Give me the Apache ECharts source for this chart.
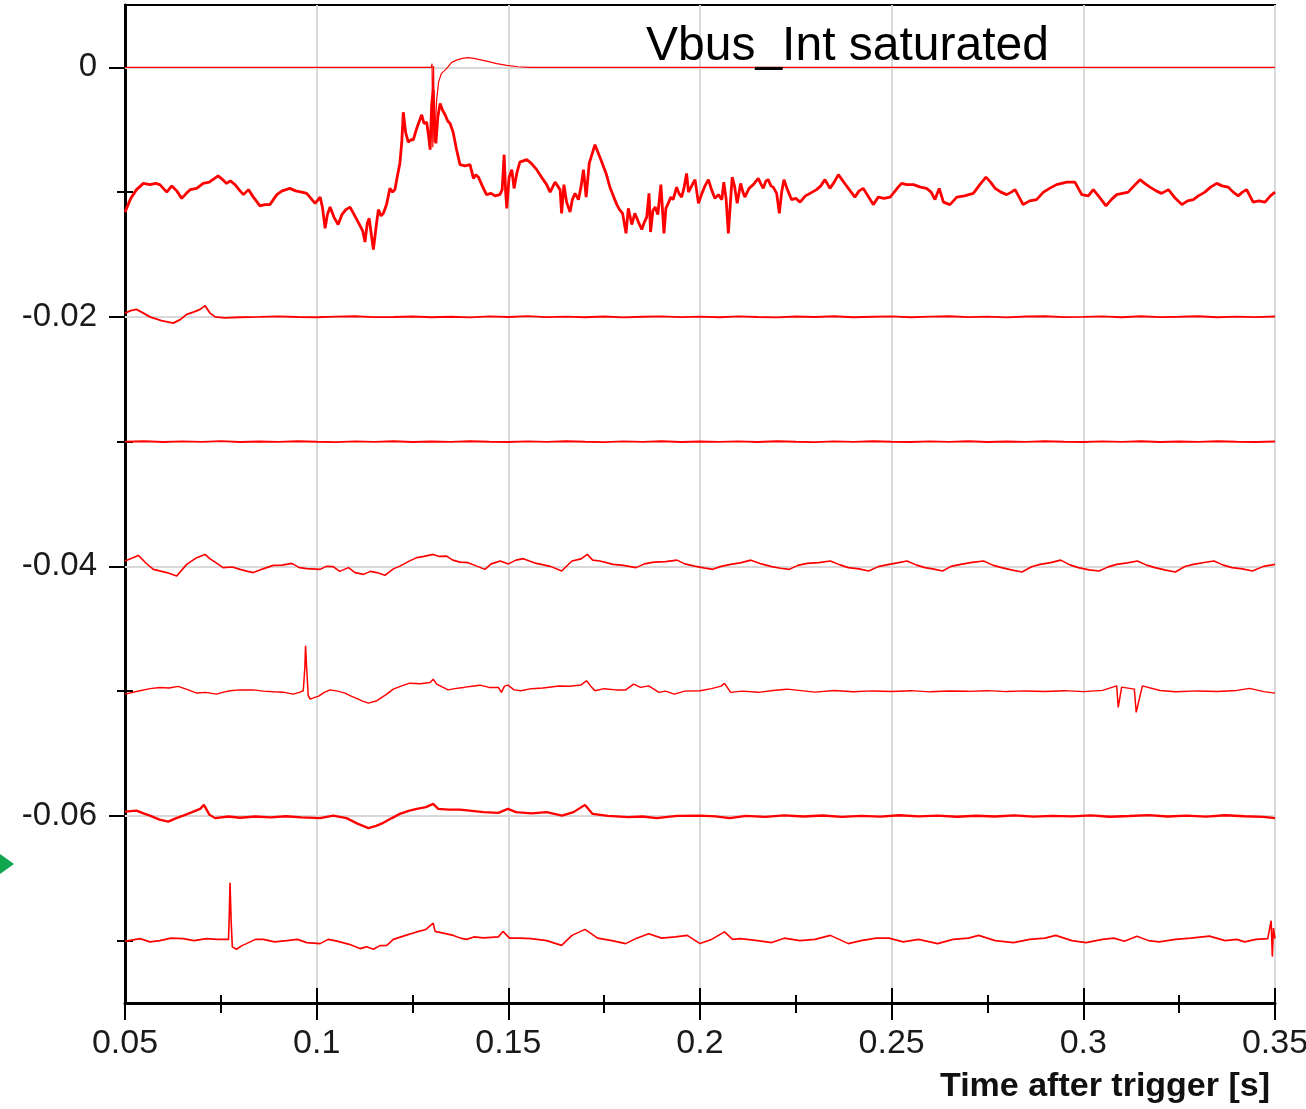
<!DOCTYPE html>
<html>
<head>
<meta charset="utf-8">
<script src="https://cdn.jsdelivr.net/npm/echarts@6.0.0/dist/echarts.min.js"></script>
<style>
html,body{margin:0;padding:0;background:#fff;overflow:hidden;}
#chart{width:1306px;height:1109px;}
</style>
</head>
<body>
<div id="chart"></div>
<script>
// ---------------- DATA ----------------
const chartTitle = 'Vbus_Int saturated';
const xAxisName = 'Time after trigger [s]';
const xMin = 0.05, xMax = 0.35, xStep = 0.05;
const yMin = -0.075, yMax = 0.005;
const yMajorTicks = [0, -0.02, -0.04, -0.06];
const yMinorTicks = [-0.01, -0.03, -0.05, -0.07];
const yGridLines = [0, -0.02, -0.04, -0.06];

// trace at 0 (thin, saturated integrator)
const traceA = [[0.05,0],[0.1299,0],[0.1301,0.0003],[0.1303,-0.0064],[0.1305,0.0001],[0.1307,-0.006],[0.131,-0.0045],[0.1313,-0.0026],[0.1318,-0.0012],[0.1325,-0.0005],[0.1339,-0.0001],[0.1352,0.0004],[0.1365,0.00058],[0.138,0.00072],[0.1395,0.00078],[0.141,0.00072],[0.1443,0.0005],[0.147,0.0003],[0.1496,0.00016],[0.1525,0.00005],[0.1555,0],[0.35,0]];

// thick trace around -0.01
const traceB = [[0.05,-0.0116],[0.0515,-0.0105],[0.053,-0.0098],[0.0548,-0.0093],[0.0565,-0.0094],[0.058,-0.0093],[0.0591,-0.0094],[0.06,-0.0097],[0.0609,-0.01],[0.0622,-0.0095],[0.0635,-0.0099],[0.0648,-0.0105],[0.066,-0.0101],[0.067,-0.0098],[0.0687,-0.0097],[0.0704,-0.0093],[0.072,-0.0092],[0.0743,-0.0087],[0.0755,-0.009],[0.0765,-0.0093],[0.0775,-0.0091],[0.0787,-0.0094],[0.08,-0.0099],[0.0809,-0.0102],[0.0822,-0.0098],[0.0835,-0.0104],[0.0852,-0.0111],[0.0865,-0.011],[0.0878,-0.011],[0.0896,-0.0102],[0.091,-0.0099],[0.093,-0.0097],[0.0945,-0.0099],[0.0961,-0.01],[0.0974,-0.0101],[0.0985,-0.0105],[0.0996,-0.0109],[0.1009,-0.0104],[0.1015,-0.0112],[0.1022,-0.0129],[0.1028,-0.0118],[0.1035,-0.0112],[0.1045,-0.012],[0.1056,-0.0126],[0.1066,-0.0118],[0.1076,-0.0114],[0.1087,-0.0112],[0.1096,-0.0117],[0.111,-0.0125],[0.112,-0.0131],[0.1126,-0.014],[0.1132,-0.0125],[0.1137,-0.0121],[0.1143,-0.0135],[0.1148,-0.0146],[0.1155,-0.0128],[0.1161,-0.0114],[0.1168,-0.0119],[0.1174,-0.0117],[0.118,-0.0112],[0.1183,-0.0109],[0.1191,-0.0097],[0.1198,-0.01],[0.1204,-0.0098],[0.121,-0.0088],[0.1217,-0.0077],[0.1222,-0.006],[0.1226,-0.0036],[0.1232,-0.0052],[0.1239,-0.006],[0.1246,-0.0058],[0.1252,-0.0058],[0.1262,-0.0048],[0.1274,-0.0038],[0.128,-0.0045],[0.1287,-0.0044],[0.1292,-0.0055],[0.1296,-0.0066],[0.13,-0.003],[0.1304,-0.0018],[0.1308,-0.005],[0.1311,-0.0061],[0.1316,-0.004],[0.1322,-0.0029],[0.1328,-0.0034],[0.1335,-0.0038],[0.1342,-0.0043],[0.1348,-0.0045],[0.1356,-0.0052],[0.1365,-0.0066],[0.1374,-0.0078],[0.1387,-0.0079],[0.14,-0.0078],[0.1409,-0.0089],[0.1415,-0.0086],[0.1422,-0.0088],[0.1432,-0.0095],[0.1443,-0.0102],[0.1455,-0.0101],[0.1465,-0.0103],[0.1478,-0.0102],[0.1484,-0.0098],[0.1489,-0.007],[0.1493,-0.01],[0.1496,-0.0113],[0.1502,-0.0088],[0.1509,-0.0082],[0.1515,-0.0097],[0.1522,-0.0085],[0.153,-0.0076],[0.1548,-0.0074],[0.156,-0.0077],[0.1574,-0.0082],[0.1591,-0.009],[0.16,-0.0094],[0.1609,-0.01],[0.1622,-0.0092],[0.1635,-0.0098],[0.1639,-0.0117],[0.1645,-0.0094],[0.1652,-0.0108],[0.1661,-0.0116],[0.1667,-0.0106],[0.1674,-0.0101],[0.1683,-0.0106],[0.169,-0.0095],[0.1696,-0.0082],[0.1703,-0.0104],[0.1711,-0.0077],[0.1718,-0.007],[0.1726,-0.0062],[0.1735,-0.0069],[0.1744,-0.0076],[0.1755,-0.0085],[0.1765,-0.0096],[0.1775,-0.0104],[0.1783,-0.011],[0.179,-0.0114],[0.1798,-0.0117],[0.1807,-0.0133],[0.1813,-0.0113],[0.1818,-0.012],[0.1822,-0.0126],[0.183,-0.0117],[0.1838,-0.0123],[0.1848,-0.013],[0.1855,-0.0124],[0.1861,-0.012],[0.1867,-0.0101],[0.1871,-0.0132],[0.1877,-0.0115],[0.1883,-0.0112],[0.189,-0.0118],[0.1898,-0.0094],[0.1906,-0.0133],[0.1911,-0.0113],[0.1917,-0.0109],[0.1924,-0.0104],[0.193,-0.0106],[0.1939,-0.0096],[0.1945,-0.0101],[0.1952,-0.0104],[0.1958,-0.0097],[0.1965,-0.0085],[0.197,-0.01],[0.1974,-0.01],[0.198,-0.0094],[0.1987,-0.009],[0.1996,-0.0109],[0.2005,-0.0101],[0.2013,-0.0095],[0.2022,-0.009],[0.203,-0.0098],[0.2039,-0.0105],[0.2048,-0.0102],[0.2057,-0.0106],[0.2062,-0.0092],[0.2068,-0.0105],[0.2074,-0.0133],[0.2079,-0.011],[0.2084,-0.0088],[0.209,-0.0095],[0.2097,-0.0109],[0.2106,-0.0093],[0.2112,-0.01],[0.2117,-0.0104],[0.2128,-0.0097],[0.2139,-0.0094],[0.2152,-0.0089],[0.2158,-0.0093],[0.2165,-0.0097],[0.2172,-0.0091],[0.2178,-0.009],[0.2185,-0.0095],[0.2191,-0.0096],[0.22,-0.0101],[0.2207,-0.0117],[0.2213,-0.01],[0.2219,-0.009],[0.2228,-0.0098],[0.2239,-0.0106],[0.225,-0.0105],[0.2261,-0.0108],[0.2275,-0.0103],[0.2287,-0.0101],[0.2304,-0.0098],[0.2315,-0.0095],[0.2326,-0.009],[0.2339,-0.0097],[0.235,-0.0092],[0.2361,-0.0086],[0.2375,-0.0092],[0.2387,-0.0097],[0.2404,-0.0104],[0.2415,-0.0099],[0.2426,-0.0097],[0.244,-0.0104],[0.2452,-0.011],[0.2465,-0.0104],[0.248,-0.0105],[0.2496,-0.0104],[0.2504,-0.0101],[0.2517,-0.0096],[0.2526,-0.0093],[0.254,-0.0094],[0.2557,-0.0094],[0.2575,-0.0096],[0.2591,-0.0097],[0.2603,-0.01],[0.2613,-0.0106],[0.2624,-0.0097],[0.2635,-0.0108],[0.2652,-0.011],[0.267,-0.0104],[0.269,-0.0103],[0.2713,-0.0101],[0.273,-0.0094],[0.2746,-0.0088],[0.2758,-0.0092],[0.277,-0.0097],[0.2785,-0.01],[0.28,-0.0102],[0.2812,-0.01],[0.2822,-0.0098],[0.2843,-0.011],[0.286,-0.0107],[0.2878,-0.0106],[0.2896,-0.01],[0.2912,-0.0097],[0.293,-0.0094],[0.2957,-0.0092],[0.2978,-0.0092],[0.2996,-0.0102],[0.3013,-0.0103],[0.3026,-0.0098],[0.3042,-0.0104],[0.3059,-0.0111],[0.3073,-0.0106],[0.3087,-0.0102],[0.3102,-0.0101],[0.3117,-0.01],[0.3132,-0.0095],[0.3148,-0.009],[0.316,-0.0093],[0.3174,-0.0096],[0.319,-0.0099],[0.3204,-0.0101],[0.3222,-0.0098],[0.324,-0.0105],[0.3257,-0.011],[0.3272,-0.0107],[0.3287,-0.0106],[0.33,-0.0103],[0.3317,-0.01],[0.3332,-0.0096],[0.3348,-0.0093],[0.3362,-0.0095],[0.3378,-0.0096],[0.3391,-0.01],[0.3404,-0.0103],[0.3415,-0.01],[0.3426,-0.0098],[0.3443,-0.0108],[0.3458,-0.0107],[0.3474,-0.0108],[0.3488,-0.0103],[0.35,-0.01]];

// trace around -0.02
const traceC = [[0.05,-0.0197],[0.0515,-0.0195],[0.053,-0.0194],[0.0548,-0.0197],[0.0565,-0.02],[0.0595,-0.0203],[0.0626,-0.0205],[0.0645,-0.0202],[0.0661,-0.0198],[0.068,-0.0196],[0.0696,-0.0194],[0.0709,-0.0191],[0.0722,-0.0197],[0.0735,-0.02],[0.076,-0.02008],[0.08,-0.02003],[0.085,-0.02],[0.09,-0.01996],[0.095,-0.02001],[0.1,-0.02003],[0.105,-0.01998],[0.11,-0.01995],[0.115,-0.02002],[0.12,-0.02001],[0.125,-0.01997],[0.13,-0.02003],[0.135,-0.01999],[0.14,-0.02004],[0.145,-0.01996],[0.15,-0.02001],[0.155,-0.01994],[0.16,-0.02002],[0.165,-0.01998],[0.17,-0.02003],[0.175,-0.01997],[0.18,-0.02004],[0.185,-0.01999],[0.19,-0.01996],[0.195,-0.02002],[0.2,-0.01998],[0.205,-0.02003],[0.21,-0.01996],[0.215,-0.02001],[0.22,-0.02004],[0.225,-0.01997],[0.23,-0.02001],[0.235,-0.01995],[0.24,-0.02003],[0.245,-0.01999],[0.25,-0.01996],[0.255,-0.02003],[0.26,-0.01998],[0.265,-0.01995],[0.27,-0.02002],[0.275,-0.01998],[0.28,-0.02004],[0.285,-0.01997],[0.29,-0.01995],[0.295,-0.02002],[0.3,-0.02],[0.305,-0.01996],[0.31,-0.02003],[0.315,-0.01995],[0.32,-0.02002],[0.325,-0.01999],[0.33,-0.01995],[0.335,-0.02003],[0.34,-0.01998],[0.345,-0.02002],[0.35,-0.01997]];

// trace around -0.03
const traceD = [[0.05,-0.03],[0.055,-0.02997],[0.06,-0.03003],[0.065,-0.02998],[0.07,-0.03002],[0.075,-0.02996],[0.08,-0.03003],[0.085,-0.02999],[0.09,-0.03002],[0.095,-0.02997],[0.1,-0.03001],[0.105,-0.03004],[0.11,-0.02998],[0.115,-0.03002],[0.12,-0.02997],[0.125,-0.03003],[0.13,-0.02999],[0.135,-0.03002],[0.14,-0.02997],[0.145,-0.03001],[0.15,-0.03003],[0.155,-0.02998],[0.16,-0.03002],[0.165,-0.02997],[0.17,-0.03001],[0.175,-0.03004],[0.18,-0.02998],[0.185,-0.03002],[0.19,-0.02997],[0.195,-0.03003],[0.2,-0.02999],[0.205,-0.03002],[0.21,-0.02998],[0.215,-0.03003],[0.22,-0.02997],[0.225,-0.03001],[0.23,-0.03004],[0.235,-0.02998],[0.24,-0.03002],[0.245,-0.02997],[0.25,-0.03001],[0.255,-0.03003],[0.26,-0.02998],[0.265,-0.03002],[0.27,-0.02997],[0.275,-0.03003],[0.28,-0.02999],[0.285,-0.03002],[0.29,-0.02997],[0.295,-0.03001],[0.3,-0.03003],[0.305,-0.02998],[0.31,-0.03002],[0.315,-0.02997],[0.32,-0.03003],[0.325,-0.02999],[0.33,-0.03002],[0.335,-0.02997],[0.34,-0.03001],[0.345,-0.03003],[0.35,-0.02999]];

// trace around -0.04
const traceE = [[0.05,-0.03957],[0.0535,-0.03912],[0.0555,-0.03975],[0.0574,-0.04024],[0.0609,-0.0405],[0.0635,-0.04078],[0.0648,-0.0403],[0.0661,-0.03984],[0.0687,-0.0393],[0.0709,-0.03904],[0.0722,-0.0394],[0.0735,-0.03966],[0.0756,-0.0401],[0.078,-0.04005],[0.08,-0.04024],[0.082,-0.0404],[0.0835,-0.0405],[0.086,-0.0402],[0.0887,-0.03992],[0.091,-0.0399],[0.0935,-0.03976],[0.0955,-0.0401],[0.0974,-0.04018],[0.1009,-0.04024],[0.1025,-0.04],[0.1043,-0.04002],[0.106,-0.0404],[0.1083,-0.0401],[0.11,-0.0405],[0.1122,-0.04064],[0.114,-0.0404],[0.1157,-0.0405],[0.1178,-0.04072],[0.12,-0.0402],[0.1217,-0.03998],[0.124,-0.0396],[0.1261,-0.0393],[0.128,-0.0392],[0.1304,-0.03904],[0.132,-0.0392],[0.1339,-0.03918],[0.1355,-0.0395],[0.1374,-0.03966],[0.1395,-0.0397],[0.1413,-0.03992],[0.1439,-0.04024],[0.1455,-0.0398],[0.147,-0.03966],[0.1479,-0.03957],[0.15,-0.0398],[0.152,-0.0395],[0.1539,-0.03938],[0.1573,-0.03976],[0.161,-0.04],[0.1639,-0.04037],[0.1666,-0.03957],[0.169,-0.0394],[0.1706,-0.03904],[0.172,-0.0395],[0.1739,-0.03957],[0.1773,-0.03984],[0.18,-0.03992],[0.1833,-0.0401],[0.1855,-0.0398],[0.188,-0.03966],[0.191,-0.03962],[0.194,-0.0395],[0.196,-0.0398],[0.1986,-0.03998],[0.201,-0.04012],[0.2033,-0.04024],[0.2055,-0.04],[0.208,-0.03984],[0.2105,-0.03972],[0.2133,-0.0395],[0.216,-0.0398],[0.2187,-0.04002],[0.221,-0.04015],[0.2233,-0.04024],[0.2255,-0.03992],[0.228,-0.03976],[0.231,-0.0397],[0.234,-0.03957],[0.2365,-0.03988],[0.2387,-0.0401],[0.2415,-0.0402],[0.244,-0.04037],[0.2465,-0.04002],[0.2493,-0.03984],[0.2515,-0.03972],[0.254,-0.03957],[0.2565,-0.0399],[0.2587,-0.0401],[0.261,-0.04022],[0.2633,-0.04037],[0.2655,-0.04],[0.268,-0.03984],[0.271,-0.03968],[0.274,-0.03957],[0.2765,-0.03992],[0.2787,-0.0401],[0.2815,-0.0403],[0.284,-0.04045],[0.2865,-0.04003],[0.2887,-0.03984],[0.2915,-0.0397],[0.2941,-0.0395],[0.2965,-0.03988],[0.2987,-0.0401],[0.3015,-0.04028],[0.3041,-0.04037],[0.3065,-0.04004],[0.3087,-0.03984],[0.3115,-0.03972],[0.3141,-0.03957],[0.3165,-0.0399],[0.3187,-0.0401],[0.3215,-0.0403],[0.324,-0.04045],[0.3265,-0.04001],[0.3287,-0.03984],[0.3315,-0.03969],[0.3341,-0.03957],[0.3365,-0.0399],[0.3388,-0.0401],[0.3415,-0.0402],[0.3441,-0.04037],[0.347,-0.04],[0.35,-0.03984]];

// trace around -0.05
const traceF = [[0.05,-0.05024],[0.0539,-0.04997],[0.0565,-0.0498],[0.0591,-0.0497],[0.0615,-0.04975],[0.0639,-0.04962],[0.0665,-0.0499],[0.0687,-0.05016],[0.071,-0.0501],[0.0739,-0.05024],[0.0755,-0.0501],[0.0774,-0.04997],[0.08,-0.0499],[0.0835,-0.0499],[0.086,-0.05],[0.0887,-0.05005],[0.0915,-0.0501],[0.0939,-0.05024],[0.0955,-0.0501],[0.0965,-0.04997],[0.0969,-0.0482],[0.0971,-0.04637],[0.0974,-0.0482],[0.0978,-0.05037],[0.0983,-0.05064],[0.0995,-0.0505],[0.1004,-0.05042],[0.102,-0.0501],[0.1035,-0.0499],[0.1055,-0.05],[0.1074,-0.05016],[0.109,-0.0504],[0.1104,-0.05058],[0.112,-0.0508],[0.1135,-0.05096],[0.1157,-0.05077],[0.118,-0.0503],[0.12,-0.04984],[0.122,-0.0496],[0.1243,-0.04936],[0.127,-0.0494],[0.1296,-0.0493],[0.1304,-0.04904],[0.1313,-0.04944],[0.1343,-0.0499],[0.136,-0.0498],[0.1383,-0.0497],[0.1405,-0.0496],[0.1426,-0.04952],[0.145,-0.0497],[0.1474,-0.0497],[0.1482,-0.0501],[0.149,-0.0496],[0.1499,-0.04952],[0.1515,-0.0499],[0.1533,-0.04997],[0.156,-0.0498],[0.159,-0.04975],[0.1633,-0.04958],[0.166,-0.0496],[0.169,-0.0495],[0.1704,-0.04917],[0.1715,-0.0496],[0.1726,-0.04997],[0.175,-0.0498],[0.178,-0.0499],[0.1806,-0.0499],[0.1827,-0.04944],[0.1845,-0.0497],[0.1866,-0.04958],[0.1893,-0.0501],[0.191,-0.05],[0.1933,-0.05024],[0.196,-0.05],[0.2,-0.04997],[0.203,-0.0498],[0.2055,-0.0496],[0.2064,-0.04938],[0.208,-0.0501],[0.211,-0.05],[0.2153,-0.0501],[0.219,-0.04995],[0.2227,-0.04984],[0.23,-0.05008],[0.235,-0.04995],[0.24,-0.05005],[0.245,-0.04998],[0.25,-0.05003],[0.255,-0.04996],[0.26,-0.05006],[0.265,-0.04999],[0.27,-0.05002],[0.275,-0.04996],[0.28,-0.05004],[0.285,-0.04998],[0.29,-0.05003],[0.295,-0.04996],[0.3,-0.05004],[0.305,-0.04994],[0.3087,-0.04958],[0.3091,-0.0513],[0.31,-0.04968],[0.3133,-0.04984],[0.3138,-0.0517],[0.3154,-0.04958],[0.32,-0.04995],[0.324,-0.05005],[0.33,-0.04998],[0.335,-0.05003],[0.34,-0.04994],[0.3434,-0.04978],[0.347,-0.05004],[0.35,-0.05016]];

// trace around -0.06
const traceG = [[0.05,-0.05966],[0.053,-0.05958],[0.0548,-0.0598],[0.0565,-0.05998],[0.059,-0.0603],[0.0613,-0.06046],[0.0632,-0.0602],[0.0652,-0.05998],[0.0675,-0.0597],[0.0696,-0.05944],[0.0706,-0.05912],[0.072,-0.0599],[0.0735,-0.06018],[0.077,-0.06005],[0.08,-0.06015],[0.084,-0.06005],[0.088,-0.06012],[0.092,-0.06003],[0.096,-0.06012],[0.1009,-0.06018],[0.1043,-0.05998],[0.1078,-0.06018],[0.1105,-0.0606],[0.1135,-0.06098],[0.1155,-0.0608],[0.1174,-0.06056],[0.1195,-0.0602],[0.1217,-0.05984],[0.124,-0.0596],[0.1261,-0.05944],[0.1285,-0.0593],[0.1304,-0.05904],[0.1317,-0.05944],[0.1345,-0.0595],[0.1374,-0.0595],[0.1405,-0.0596],[0.1435,-0.0597],[0.1474,-0.05976],[0.1499,-0.05944],[0.152,-0.0597],[0.156,-0.0598],[0.16,-0.0597],[0.164,-0.05998],[0.167,-0.0597],[0.17,-0.05912],[0.172,-0.05984],[0.176,-0.06],[0.1813,-0.0601],[0.185,-0.06005],[0.1887,-0.06018],[0.194,-0.06],[0.2,-0.05998],[0.204,-0.06004],[0.2078,-0.06018],[0.212,-0.06],[0.217,-0.06008],[0.222,-0.05996],[0.227,-0.06005],[0.232,-0.05997],[0.237,-0.06008],[0.242,-0.06],[0.247,-0.06006],[0.252,-0.05995],[0.257,-0.06004],[0.262,-0.05998],[0.267,-0.06007],[0.272,-0.05999],[0.277,-0.06005],[0.282,-0.05996],[0.287,-0.06006],[0.292,-0.06],[0.297,-0.06004],[0.302,-0.05996],[0.307,-0.06007],[0.312,-0.06001],[0.317,-0.05994],[0.322,-0.06005],[0.327,-0.05998],[0.332,-0.06006],[0.337,-0.05995],[0.342,-0.06003],[0.347,-0.06008],[0.35,-0.06018]];

// trace around -0.07
const traceH = [[0.05,-0.07006],[0.0539,-0.06984],[0.0565,-0.0701],[0.0591,-0.07],[0.062,-0.0698],[0.0652,-0.06984],[0.068,-0.07],[0.0713,-0.06984],[0.074,-0.0699],[0.077,-0.0699],[0.0772,-0.068],[0.0774,-0.06536],[0.0777,-0.0685],[0.078,-0.0705],[0.0791,-0.07069],[0.0805,-0.0704],[0.0817,-0.07024],[0.084,-0.0699],[0.0861,-0.0699],[0.089,-0.0701],[0.0922,-0.07],[0.095,-0.0699],[0.0974,-0.07016],[0.1009,-0.07024],[0.103,-0.0699],[0.1056,-0.07006],[0.1085,-0.0703],[0.1113,-0.07064],[0.113,-0.0705],[0.1148,-0.07069],[0.1165,-0.0704],[0.1183,-0.07038],[0.12,-0.0699],[0.123,-0.0696],[0.1261,-0.0693],[0.1285,-0.0691],[0.1304,-0.0686],[0.1309,-0.06926],[0.133,-0.0694],[0.1357,-0.06958],[0.1375,-0.0698],[0.1391,-0.0699],[0.141,-0.0697],[0.1435,-0.06978],[0.1474,-0.0697],[0.1486,-0.06926],[0.1503,-0.0698],[0.153,-0.0698],[0.1559,-0.06984],[0.16,-0.07],[0.1639,-0.07038],[0.1666,-0.06958],[0.17,-0.0691],[0.1733,-0.0698],[0.177,-0.07],[0.1806,-0.07024],[0.1835,-0.0698],[0.1866,-0.06944],[0.19,-0.0698],[0.1935,-0.0697],[0.1967,-0.06958],[0.2,-0.07024],[0.203,-0.0699],[0.2064,-0.0693],[0.2085,-0.0699],[0.2106,-0.06984],[0.215,-0.07],[0.2187,-0.07016],[0.222,-0.0698],[0.226,-0.07],[0.23,-0.0699],[0.234,-0.06958],[0.2387,-0.07024],[0.242,-0.07],[0.246,-0.0698],[0.2493,-0.0698],[0.253,-0.0701],[0.257,-0.0699],[0.262,-0.07024],[0.266,-0.0699],[0.27,-0.0698],[0.2727,-0.06958],[0.277,-0.07],[0.2818,-0.07016],[0.286,-0.0699],[0.29,-0.0698],[0.2928,-0.06958],[0.297,-0.07],[0.3007,-0.07016],[0.305,-0.0699],[0.308,-0.0698],[0.3107,-0.07005],[0.314,-0.06964],[0.317,-0.07],[0.3198,-0.0701],[0.324,-0.0699],[0.328,-0.0698],[0.3329,-0.06964],[0.337,-0.07],[0.34,-0.0699],[0.3421,-0.0701],[0.345,-0.0699],[0.3481,-0.06984],[0.349,-0.0684],[0.3493,-0.07128],[0.3496,-0.069],[0.35,-0.06984]];

// ---------------- CHART ----------------
const FONT = '"Liberation Sans", Arial, Helvetica, sans-serif';
const chart = echarts.init(document.getElementById('chart'), null, {renderer: 'canvas'});

function trace(data, width, z) {
  return {
    type: 'line', data: data, xAxisIndex: 0, yAxisIndex: 0,
    symbol: 'none', showSymbol: false, silent: true, z: z || 3,
    lineStyle: {color: '#ff0000', width: width},
    itemStyle: {color: '#ff0000'}
  };
}
const xFmt = v => String(parseFloat(v.toFixed(3)));
const yFmt = v => (Math.abs(v) < 1e-9 ? '0' : v.toFixed(2));

function xAx(inside, majorLen, minorLen, main) {
  return {
    type: 'value', gridIndex: 0, position: 'bottom', min: xMin, max: xMax, interval: xStep,
    axisLine: {show: !!main, onZero: false, lineStyle: {color: '#000', width: 3}},
    axisTick: {show: true, inside: inside, length: majorLen, lineStyle: {color: '#000', width: 2}},
    minorTick: {show: true, splitNumber: 2, length: minorLen, lineStyle: {color: '#000', width: 2}},
    axisLabel: {show: !!main, fontSize: 34, color: '#1a1a1a', fontFamily: FONT, margin: 24, formatter: xFmt},
    splitLine: {show: !!main, lineStyle: {color: '#d9d9d9', width: 2}},
    minorSplitLine: {show: false},
    name: main ? xAxisName : '',
    nameLocation: 'end', nameGap: -5,
    nameTextStyle: {fontSize: 34, fontWeight: 'bold', color: '#111', fontFamily: FONT,
      align: 'right', verticalAlign: 'top', padding: [67, 0, 0, 0]}
  };
}
function yAx(inside, len, values, main) {
  return {
    type: 'value', gridIndex: 0, position: 'left', min: yMin, max: yMax,
    axisLine: {show: !!main, onZero: false, lineStyle: {color: '#000', width: 3}},
    axisTick: {show: true, inside: inside, length: len, customValues: values, lineStyle: {color: '#000', width: 2}},
    axisLabel: {show: !!main, customValues: values, fontSize: 33, color: '#1a1a1a', fontFamily: FONT, margin: 28, formatter: yFmt},
    splitLine: {show: false}
  };
}

const option = {
  animation: false,
  backgroundColor: '#ffffff',
  title: {
    text: chartTitle, left: 641, top: 18,
    textStyle: {fontSize: 48, fontWeight: 'normal', color: '#000', fontFamily: FONT}
  },
  grid: {left: 125, top: 5, width: 1150, height: 998, show: true, borderColor: '#000', borderWidth: 2,
    backgroundColor: 'transparent', containLabel: false, outerBoundsMode: 'none'},
  xAxis: [xAx(false, 17, 10, true), xAx(true, 15, 8, false)],
  yAxis: [
    yAx(false, 16, yMajorTicks, true),
    yAx(false, 8, yMinorTicks, false),
    yAx(true, 15, yMajorTicks, false),
    yAx(true, 8, yMinorTicks, false)
  ],
  graphic: [{
    type: 'polygon', silent: true,
    shape: {points: [[0, 854], [14, 864], [0, 874]]},
    style: {fill: '#12a650'}
  }],
  series: [
    {
      type: 'line', data: [], xAxisIndex: 0, yAxisIndex: 0, silent: true, z: 1,
      markLine: {
        silent: true, z: 1, symbol: 'none', label: {show: false}, animation: false,
        lineStyle: {color: '#d9d9d9', width: 2, type: 'solid'},
        emphasis: {disabled: true},
        data: yGridLines.map(v => ({yAxis: v}))
      }
    },
    trace(traceA, 1.2, 4),
    trace(traceB, 2.8, 3),
    trace(traceC, 1.8),
    trace(traceD, 1.9),
    trace(traceE, 1.6),
    trace(traceF, 1.5),
    trace(traceG, 2.3),
    trace(traceH, 1.6)
  ]
};
chart.setOption(option);
</script>
</body>
</html>
